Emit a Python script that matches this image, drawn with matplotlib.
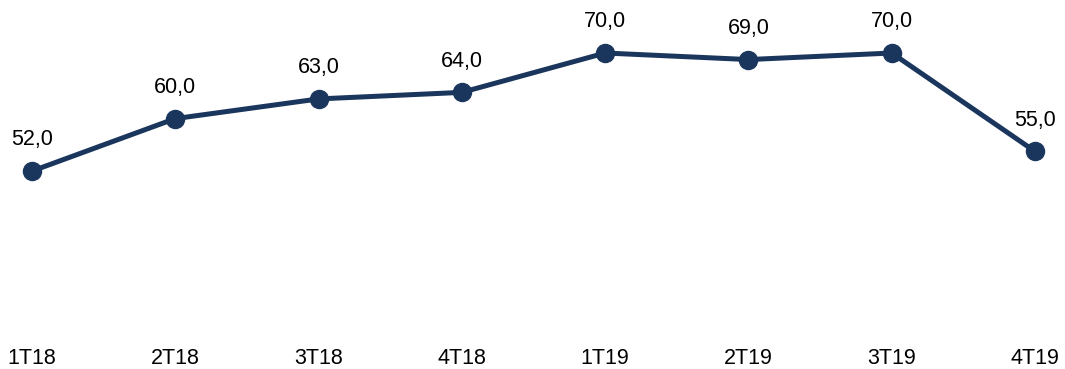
import matplotlib
matplotlib.use("Agg")
import matplotlib.pyplot as plt

categories = ["1T18", "2T18", "3T18", "4T18", "1T19", "2T19", "3T19", "4T19"]
values = [52.0, 60.0, 63.0, 64.0, 70.0, 69.0, 70.0, 55.0]

plt.rcParams['font.family'] = ['Liberation Sans', 'DejaVu Sans']
color = "#1B365D"

fig = plt.figure(figsize=(10.65, 3.69), dpi=100)
W, H = 1065, 369
left_px, right_px = 32, 1035
top_px, bot_px = 0, 340
ax = fig.add_axes([left_px / W, (H - bot_px) / H, (right_px - left_px) / W, (bot_px - top_px) / H])
x = list(range(len(categories)))
ax.plot(x, values, color=color, lw=3.6, marker='o', markersize=13, solid_capstyle='round', clip_on=False)
ax.set_xlim(0, len(categories) - 1)
ax.set_ylim(26.25, 78.08)
for xi, v in zip(x, values):
    ax.annotate(f"{v:.1f}".replace('.', ','), (xi, v), xytext=(0, 22.5), textcoords='offset points',
                ha='center', va='center', fontsize=15.5, color='black')
ax.set_xticks(x)
ax.set_xticklabels(categories, fontsize=15.5)
ax.tick_params(axis='x', length=0, pad=6)
ax.set_yticks([])
for s in ax.spines.values():
    s.set_visible(False)
fig.savefig("out.png", dpi=100)
